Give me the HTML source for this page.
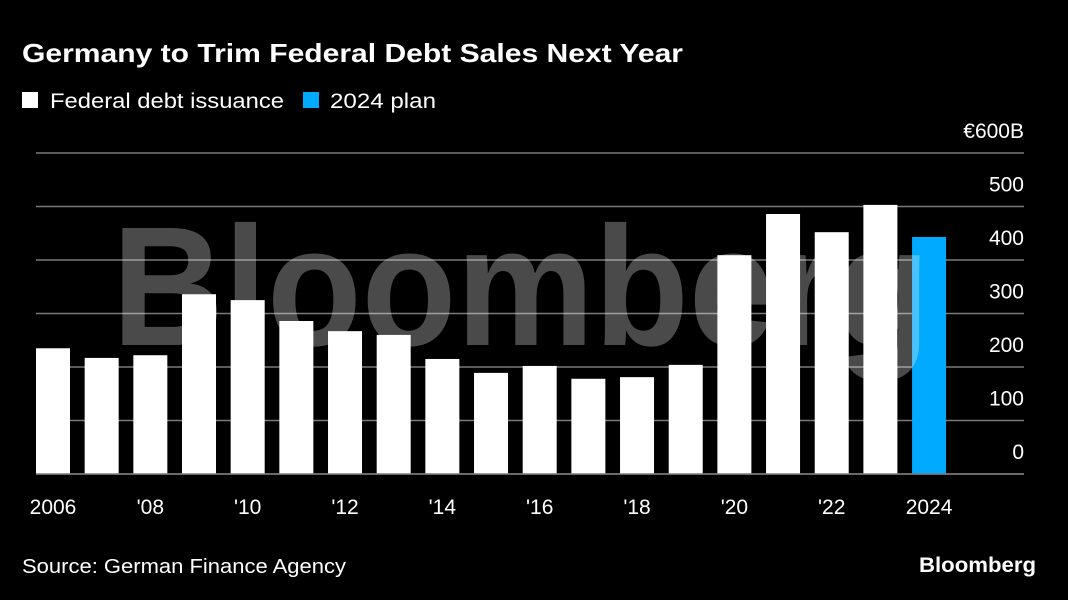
<!DOCTYPE html>
<html><head><meta charset="utf-8"><style>
body{margin:0;background:#000;width:1068px;height:600px;overflow:hidden;font-family:"Liberation Sans",sans-serif;}
</style></head><body>
<svg width="1068" height="600" style="display:block">
<rect width="1068" height="600" fill="#000"/>
<text x="22" y="62" fill="#fff" font-size="26" font-weight="bold" textLength="661" lengthAdjust="spacingAndGlyphs">Germany to Trim Federal Debt Sales Next Year</text>
<rect x="22" y="92" width="16" height="16" fill="#fff"/>
<text x="50" y="108" fill="#fff" font-size="21" textLength="234" lengthAdjust="spacingAndGlyphs">Federal debt issuance</text>
<rect x="303" y="92" width="16" height="16" fill="#00aaff"/>
<text x="330" y="108" fill="#fff" font-size="21" textLength="106" lengthAdjust="spacingAndGlyphs">2024 plan</text>
<g id="grid"></g>
<g id="bars"></g>
<text x="112" y="345" fill="#fff" fill-opacity="0.29" font-size="170" font-weight="bold" textLength="818" lengthAdjust="spacingAndGlyphs">Bloomberg</text>
<g id="xlabels"></g>
<text x="22" y="573" fill="#fff" font-size="20" textLength="324" lengthAdjust="spacingAndGlyphs">Source: German Finance Agency</text>
<text x="1036" y="572" fill="#fff" font-size="21" font-weight="bold" text-anchor="end" textLength="117" lengthAdjust="spacingAndGlyphs">Bloomberg</text>
</svg>
<script>
const years=[2006,2007,2008,2009,2010,2011,2012,2013,2014,2015,2016,2017,2018,2019,2020,2021,2022,2023,2024];
const values=[235,217,222,336,325,286,267,260,215,189,202,178,181,204,409,486,452,503,443];
const yTicks=[0,100,200,300,400,500,600];
const yTickLabels=["0","100","200","300","400","500","€600B"];
const xLabelYears=[2006,2008,2010,2012,2014,2016,2018,2020,2022,2024];
const xLabelText=["2006","'08","'10","'12","'14","'16","'18","'20","'22","2024"];
const NS="http://www.w3.org/2000/svg";
const y=v=>474-v*0.535;
const x=i=>36+i*48.67;
const bw=34;
function mk(t,a,p){const e=document.createElementNS(NS,t);for(const k in a)e.setAttribute(k,a[k]);p.appendChild(e);return e;}
const grid=document.getElementById('grid');
yTicks.forEach((t,i)=>{
 const l=mk('line',{x1:36,x2:1024,y1:y(t),y2:y(t),stroke:'#7a7a7a','stroke-width':1.5},grid);
 
 
 const tx=mk('text',{x:1024,y:y(t)-15,fill:'#fff','font-size':21,'text-anchor':'end'},grid);
 tx.textContent=yTickLabels[i];
 
 
});
const bars=document.getElementById('bars');
years.forEach((yr,i)=>{
 const r=mk('rect',{x:x(i),y:y(values[i]),width:bw,height:474-y(values[i]),fill:yr===2024?'#00aaff':'#fff'},bars);
 
 
});
mk('line',{x1:36,x2:1024,y1:474,y2:474,stroke:'#7a7a7a','stroke-width':1.5},bars);
const xl=document.getElementById('xlabels');
xLabelYears.forEach((yr,i)=>{
 const t=mk('text',{x:x(years.indexOf(yr))+bw/2,y:514,fill:'#fff','font-size':21,'text-anchor':'middle'},xl);
 t.textContent=xLabelText[i];
 
 
});
</script>
</body></html>
